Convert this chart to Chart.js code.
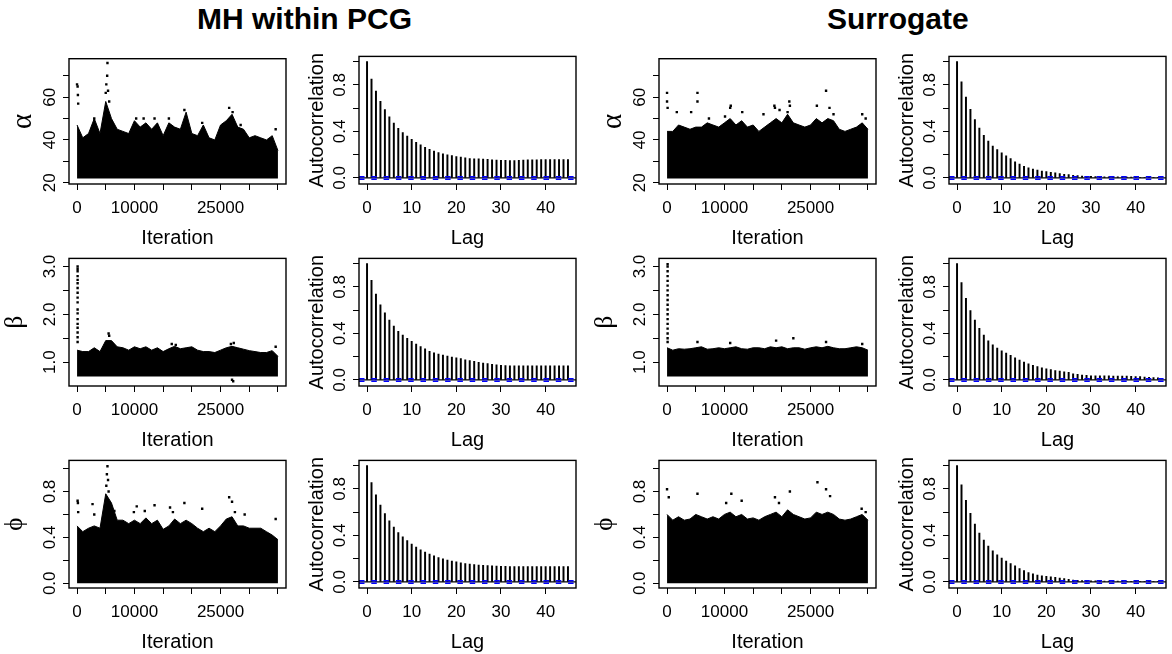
<!DOCTYPE html>
<html><head><meta charset="utf-8">
<script src="https://cdn.jsdelivr.net/npm/chart.js@4.4.0/dist/chart.umd.min.js"></script>
<style>
html,body{margin:0;padding:0;background:#fff;}
#wrap{position:relative;width:1172px;height:654px;overflow:hidden;background:#fff;}
#wrap canvas{position:absolute;}
.ttl{position:absolute;font:bold 30px "Liberation Sans",Arial,sans-serif;color:#000;line-height:30px;white-space:nowrap;}
</style></head><body>
<div id="wrap">
<div class="ttl" style="left:197px;top:4px">MH within PCG</div>
<div class="ttl" style="left:827px;top:4px">Surrogate</div>
</div>
<script>
// ---------- data ----------
const iterations = [0,1000,2000,3000,4000,5000,6000,7000,8000,9000,10000,11000,12000,13000,14000,15000,16000,17000,18000,19000,20000,21000,22000,23000,24000,25000,26000,27000,28000,29000,30000,31000,32000,33000,34000,35000];

// upper edge of the dense trace band (read per 1000 iterations)
const mhAlphaUpper  = [47,41,43,50,43,58,50,45,44,43,49,46,48,45,48,42,48,46,45,53,43,42,47,41,40,47,49,52,46,45,41,42,41,40,42,35];
const mhBetaUpper   = [1.25,1.22,1.22,1.30,1.22,1.45,1.45,1.32,1.30,1.25,1.32,1.28,1.32,1.25,1.30,1.22,1.28,1.33,1.28,1.30,1.32,1.25,1.22,1.22,1.20,1.25,1.30,1.33,1.30,1.27,1.24,1.22,1.20,1.20,1.24,1.12];
const mhPhiUpper    = [0.50,0.45,0.48,0.50,0.48,0.78,0.70,0.55,0.55,0.52,0.55,0.52,0.57,0.52,0.55,0.47,0.50,0.56,0.52,0.55,0.52,0.48,0.45,0.48,0.45,0.50,0.56,0.58,0.50,0.50,0.48,0.48,0.48,0.45,0.42,0.38];
const surAlphaUpper = [44,44,47,46,45,46,46,48,47,46,48,50,47,49,46,47,44,46,48,50,48,52,48,47,46,47,50,48,50,49,45,44,45,46,48,45];
const surBetaUpper  = [1.30,1.25,1.28,1.27,1.28,1.30,1.32,1.27,1.28,1.30,1.28,1.30,1.32,1.28,1.27,1.30,1.30,1.28,1.32,1.30,1.32,1.28,1.30,1.30,1.27,1.30,1.32,1.30,1.33,1.30,1.28,1.28,1.30,1.32,1.30,1.25];
const surPhiUpper   = [0.60,0.55,0.58,0.55,0.56,0.60,0.58,0.56,0.58,0.56,0.60,0.62,0.58,0.60,0.56,0.57,0.55,0.58,0.60,0.62,0.58,0.64,0.60,0.58,0.56,0.57,0.62,0.60,0.62,0.60,0.56,0.55,0.56,0.58,0.60,0.55];

// lower edge of the dense trace band
const alphaLower = 22;
const betaLower = 0.7;
const phiLower = 0;

// isolated draws outside the band [iteration, value]
const mhAlphaPoints = [[0,66],[100,65],[150,61],[200,57],[5000,62],[5100,66],[5250,70],[5300,76],[5400,63],[5600,58],[3000,50],[10300,50],[11600,50],[13500,50],[16000,50],[18700,54],[21800,48],[26500,55],[27100,53],[28500,47],[34600,45]];
const mhBetaPoints  = [[100,3.0],[100,2.95],[100,2.9],[100,2.8],[100,2.72],[100,2.65],[100,2.55],[100,2.45],[100,2.35],[100,2.25],[100,2.1],[100,2.02],[100,1.9],[100,1.8],[100,1.72],[100,1.62],[100,1.52],[100,1.42],[5500,1.6],[5600,1.55],[16500,1.38],[17200,1.36],[26800,1.38],[27300,1.4],[34600,1.32],[27200,0.6],[27000,0.63]];
const mhPhiPoints   = [[100,0.72],[150,0.70],[200,0.62],[2700,0.69],[3000,0.6],[5300,1.02],[5200,0.95],[5400,0.9],[5100,0.85],[5500,0.8],[6500,0.63],[9900,0.62],[10400,0.67],[11800,0.63],[13500,0.68],[16200,0.66],[16700,0.62],[18700,0.70],[21800,0.65],[26500,0.75],[27000,0.71],[27500,0.62],[29200,0.6],[34600,0.56]];
const surAlphaPoints = [[0,62],[0,58],[100,55],[1700,53],[4200,53],[5300,62],[5300,58],[7300,50],[10100,51],[11000,55],[11100,56],[13100,53],[16800,52],[18800,55],[18700,56],[19600,54],[21300,58],[21400,56],[21000,53],[26100,56],[27700,63],[28300,55],[29000,52],[34000,52],[34600,50]];
const surBetaPoints = [[100,3.05],[100,3.0],[100,2.9],[100,2.8],[100,2.7],[100,2.6],[100,2.5],[100,2.4],[100,2.3],[100,2.2],[100,2.1],[100,2.0],[100,1.9],[100,1.8],[100,1.7],[100,1.6],[100,1.5],[100,1.42],[5300,1.42],[11000,1.4],[19000,1.45],[22000,1.5],[27700,1.42],[34000,1.38]];
const surPhiPoints  = [[0,0.82],[300,0.75],[5300,0.78],[10300,0.7],[11200,0.78],[13000,0.72],[18800,0.75],[19500,0.7],[21400,0.8],[26200,0.88],[27700,0.82],[28400,0.76],[33900,0.65],[34600,0.62]];

// autocorrelation by lag
const lags = [0,1,2,3,4,5,6,7,8,9,10,11,12,13,14,15,16,17,18,19,20,21,22,23,24,25,26,27,28,29,30,31,32,33,34,35,36,37,38,39,40,41,42,43,44,45];
const mhAlphaAcf  = [1.0,0.851,0.746,0.658,0.587,0.525,0.471,0.426,0.391,0.360,0.332,0.306,0.284,0.264,0.247,0.230,0.218,0.207,0.199,0.193,0.184,0.179,0.173,0.167,0.165,0.164,0.162,0.160,0.156,0.154,0.152,0.151,0.150,0.150,0.151,0.153,0.155,0.156,0.156,0.157,0.157,0.157,0.157,0.157,0.157,0.157];
const mhBetaAcf   = [1.0,0.857,0.739,0.646,0.576,0.514,0.463,0.419,0.385,0.357,0.331,0.309,0.287,0.267,0.247,0.233,0.222,0.213,0.205,0.197,0.191,0.183,0.174,0.166,0.160,0.152,0.146,0.140,0.135,0.129,0.126,0.124,0.122,0.121,0.121,0.121,0.121,0.121,0.121,0.121,0.121,0.121,0.122,0.122,0.122,0.121];
const mhPhiAcf    = [1.0,0.855,0.748,0.660,0.588,0.526,0.472,0.425,0.388,0.355,0.326,0.300,0.277,0.257,0.240,0.224,0.210,0.198,0.188,0.180,0.172,0.165,0.159,0.154,0.150,0.146,0.143,0.140,0.138,0.136,0.135,0.134,0.133,0.133,0.133,0.133,0.133,0.133,0.133,0.133,0.133,0.133,0.133,0.133,0.133,0.133];
const surAlphaAcf = [1.0,0.826,0.695,0.590,0.502,0.428,0.366,0.318,0.275,0.244,0.216,0.190,0.167,0.139,0.119,0.099,0.088,0.077,0.068,0.060,0.054,0.048,0.043,0.037,0.031,0.028,0.023,0.020,0.017,0.014,0.013,0.012,0.011,0.010,0.010,0.009,0.009,0.008,0.008,0.007,0.007,0.006,0.006,0.005,0.005,0.005];
const surBetaAcf  = [1.0,0.837,0.702,0.596,0.514,0.444,0.385,0.337,0.303,0.275,0.250,0.230,0.211,0.191,0.171,0.154,0.138,0.126,0.115,0.104,0.096,0.090,0.081,0.076,0.070,0.065,0.053,0.048,0.042,0.039,0.036,0.036,0.036,0.035,0.035,0.034,0.034,0.033,0.033,0.032,0.030,0.028,0.025,0.022,0.020,0.018];
const surPhiAcf   = [1.0,0.834,0.702,0.590,0.497,0.421,0.360,0.309,0.267,0.233,0.205,0.180,0.157,0.138,0.115,0.098,0.081,0.070,0.059,0.053,0.048,0.045,0.039,0.034,0.028,0.022,0.017,0.014,0.012,0.011,0.010,0.009,0.009,0.008,0.008,0.007,0.007,0.007,0.006,0.006,0.006,0.005,0.005,0.005,0.005,0.005];
const acfBound = 0.0113; // 1.96/sqrt(n)

// ticks
const traceXTicks  = [0,5000,10000,15000,20000,25000,30000,35000];
const traceXLabels = ['0','','10000','','','25000','',''];
const acfXTicks    = [0,10,20,30,40];
const acfXLabels   = ['0','10','20','30','40'];
const alphaYTicks  = [20,30,40,50,60,70];
const alphaYLabels = ['20','','40','','60',''];
const betaYTicks   = [1.0,1.5,2.0,2.5,3.0];
const betaYLabels  = ['1.0','','2.0','','3.0'];
const phiYTicks    = [0,0.2,0.4,0.6,0.8,1.0];
const phiYLabels   = ['0.0','','0.4','','0.8',''];
const acfYTicks    = [0,0.2,0.4,0.6,0.8,1.0];
const acfYLabels   = ['0.0','','0.4','','0.8',''];

// ---------- drawing ----------
const FONT = '"Liberation Sans", Arial, sans-serif';
const GREEK = '"Liberation Serif", "DejaVu Serif", serif';
const traceXRange = [-1400, 36400];
const acfXRange = [-1.8, 46.8];
const alphaRange = [19.4, 78.0];
const betaRange = [0.5, 3.17];
const phiRange = [-0.041, 1.071];
const acfYRange = [-0.052, 1.045];

const colLeft = [69, 359, 659, 949];
const rowTop = [55, 257, 459];

const boxPlugin = {
  id: 'box',
  afterDraw(chart) {
    const a = chart.chartArea, c = chart.ctx;
    c.save();
    c.strokeStyle = '#000';
    c.lineWidth = 1.4;
    c.strokeRect(a.left, a.top, a.right - a.left, a.bottom - a.top);
    c.restore();
  }
};

function addCanvas(col, row) {
  const cv = document.createElement('canvas');
  cv.width = 292; cv.height = 203;
  cv.style.left = (colLeft[col] - 69) + 'px';
  cv.style.top = (rowTop[row] - 10) + 'px';
  cv.style.width = '292px'; cv.style.height = '203px';
  document.getElementById('wrap').appendChild(cv);
  return cv;
}

function gridOpts() {
  return { display: true, drawOnChartArea: false, drawTicks: true, tickLength: 6, color: '#000', lineWidth: 1, offset: false };
}

// y-title style: [font size, padding]
const titleStyle = { 'α': [29, 9], 'β': [25, 2.5], 'ϕ': [25, 2.5], 'Autocorrelation': [20, 17.5] };

function makeScales(xr, xt, xl, xtitle, yr, yt, yl, ytitle) {
  const wide = ['0.0','1.0','0.4','0.8','2.0','3.0'].includes(yl[0]);
  const greek = ytitle !== 'Autocorrelation';
  const ts = titleStyle[ytitle];
  return {
    x: {
      type: 'linear', min: xr[0], max: xr[1], offset: false, bounds: 'data',
      afterBuildTicks: s => { s.ticks = xt.map(v => ({ value: v })); },
      afterFit: s => { s.height = 64; },
      ticks: { autoSkip: false, maxRotation: 0, minRotation: 0, padding: 8, color: '#000',
        font: { family: FONT, size: 17 }, callback: (v, i) => xl[i] },
      grid: gridOpts(),
      border: { display: false },
      title: { display: true, text: xtitle, color: '#000', font: { family: FONT, size: 20, lineHeight: 1 }, padding: { top: 0, bottom: 0 } }
    },
    y: {
      type: 'linear', min: yr[0], max: yr[1], bounds: 'data',
      afterBuildTicks: s => { s.ticks = yt.map(v => ({ value: v })); },
      afterFit: s => { s.width = 69; },
      ticks: { autoSkip: false, minRotation: 90, maxRotation: 90, crossAlign: 'center', padding: wide ? 1.2 : 3.5,
        color: '#000', font: { family: FONT, size: 17 }, callback: (v, i) => yl[i] },
      grid: gridOpts(),
      border: { display: false },
      title: { display: true, text: ytitle, color: '#000',
        font: { family: greek ? GREEK : FONT, size: ts[0], lineHeight: 1 },
        padding: { top: ts[1], bottom: 0 } }
    }
  };
}

function baseOptions(scales) {
  return {
    responsive: false, animation: false, devicePixelRatio: 1, events: [],
    layout: { padding: { left: 0, top: 10, right: 6, bottom: 0 } },
    plugins: { legend: { display: false }, tooltip: { enabled: false } },
    scales
  };
}

function tracePanel(col, row, upper, lower, pts, yr, yt, yl, ytitle) {
  new Chart(addCanvas(col, row), {
    type: 'line',
    data: {
      datasets: [
        { type: 'line', data: iterations.map((x, i) => ({ x, y: upper[i] })), borderColor: '#000', backgroundColor: '#000',
          borderWidth: 1, pointRadius: 0, tension: 0, fill: { value: lower }, order: 2 },
        { type: 'scatter', data: pts.map(p => ({ x: p[0], y: p[1] })), pointStyle: 'rect', pointRadius: 1.7,
          backgroundColor: '#000', borderColor: '#000', borderWidth: 0, order: 1 }
      ]
    },
    options: baseOptions(makeScales(traceXRange, traceXTicks, traceXLabels, 'Iteration', yr, yt, yl, ytitle)),
    plugins: [boxPlugin]
  });
}

function acfPanel(col, row, acf) {
  const hline = y => [{ x: acfXRange[0], y }, { x: acfXRange[1], y }];
  new Chart(addCanvas(col, row), {
    type: 'bar',
    data: {
      datasets: [
        { type: 'bar', data: lags.map((l, i) => ({ x: l, y: acf[i] })), backgroundColor: '#000', barThickness: 1.3, borderWidth: 0, order: 3 },
        { type: 'line', data: hline(0), borderColor: '#000', borderWidth: 1.2, pointRadius: 0, fill: false, order: 2 },
        { type: 'line', data: hline(acfBound), borderColor: '#0000ff', borderWidth: 1.5, borderDash: [5.5, 6.8], pointRadius: 0, fill: false, order: 1 },
        { type: 'line', data: hline(-acfBound), borderColor: '#0000ff', borderWidth: 1.5, borderDash: [5.5, 6.8], pointRadius: 0, fill: false, order: 1 }
      ]
    },
    options: baseOptions(makeScales(acfXRange, acfXTicks, acfXLabels, 'Lag', acfYRange, acfYTicks, acfYLabels, 'Autocorrelation')),
    plugins: [boxPlugin]
  });
}

tracePanel(0, 0, mhAlphaUpper, alphaLower, mhAlphaPoints, alphaRange, alphaYTicks, alphaYLabels, 'α');
acfPanel(1, 0, mhAlphaAcf);
tracePanel(2, 0, surAlphaUpper, alphaLower, surAlphaPoints, alphaRange, alphaYTicks, alphaYLabels, 'α');
acfPanel(3, 0, surAlphaAcf);

tracePanel(0, 1, mhBetaUpper, betaLower, mhBetaPoints, betaRange, betaYTicks, betaYLabels, 'β');
acfPanel(1, 1, mhBetaAcf);
tracePanel(2, 1, surBetaUpper, betaLower, surBetaPoints, betaRange, betaYTicks, betaYLabels, 'β');
acfPanel(3, 1, surBetaAcf);

tracePanel(0, 2, mhPhiUpper, phiLower, mhPhiPoints, phiRange, phiYTicks, phiYLabels, 'ϕ');
acfPanel(1, 2, mhPhiAcf);
tracePanel(2, 2, surPhiUpper, phiLower, surPhiPoints, phiRange, phiYTicks, phiYLabels, 'ϕ');
acfPanel(3, 2, surPhiAcf);
</script>
</body></html>
